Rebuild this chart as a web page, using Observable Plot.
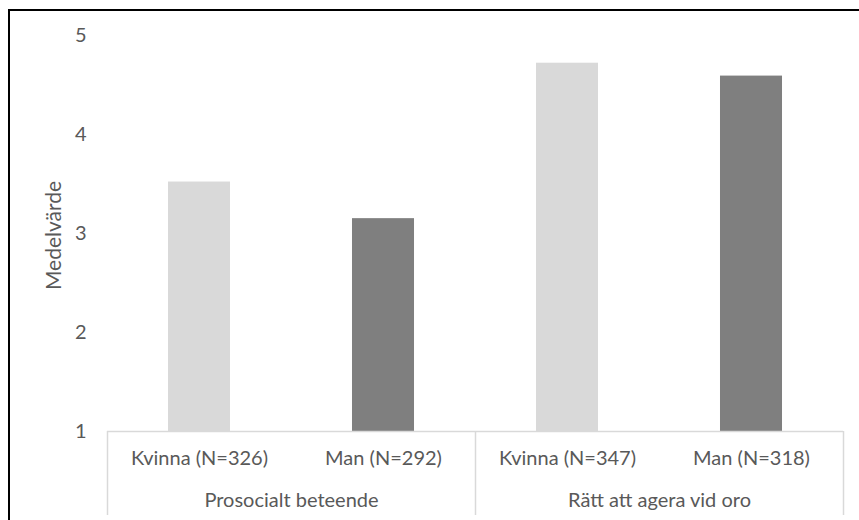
<!DOCTYPE html>
<html>
<head>
<meta charset="utf-8">
<script src="https://cdn.jsdelivr.net/npm/d3@7"></script>
<script src="https://cdn.jsdelivr.net/npm/@observablehq/plot@0.6"></script>
<style>
  html, body { margin: 0; padding: 0; background: #fff; }
  #wrap { position: relative; width: 859px; height: 520px; overflow: hidden; }
  #border { position: absolute; left: 8px; top: 9px; width: 900px; height: 600px;
            border-left: 2px solid #000; border-top: 2px solid #000; box-sizing: border-box; }
  #chart { position: absolute; left: 0; top: 0; }
</style>
</head>
<body>
<div id="wrap"><div id="chart"></div><div id="border"></div></div>
<script>
const groups = ["Prosocialt beteende", "Rätt att agera vid oro"];
const labels = ["Kvinna (N=326)", "Man (N=292)", "Kvinna (N=347)", "Man (N=318)"];
const sexes = ["Kvinna", "Man", "Kvinna", "Man"];
const values = [3.52, 3.15, 4.72, 4.59];
const yTicks = [1, 2, 3, 4, 5];
const yLabel = "Medelvärde";

const colors = {Kvinna: "#d9d9d9", Man: "#7f7f7f"};
const barFrac = 0.337; // bar width as fraction of slot

const bars = labels.map((l, i) => ({
  label: l, sex: sexes[i], value: values[i],
  x1: i + (1 - barFrac) / 2, x2: i + (1 + barFrac) / 2, xc: i + 0.5
}));
const groupData = groups.map((g, k) => ({group: g, xc: 2 * k + 1}));
const seps = [0, 2, 4];

const font = "Lato, 'Open Sans', sans-serif";
const txt = "#595959";
const fs = 20;

const chart = Plot.plot({
  width: 859,
  height: 520,
  marginLeft: 107,
  marginRight: 16,
  marginTop: 35,
  marginBottom: 89,
  style: {fontFamily: font, fontSize: fs + "px", color: txt, background: "transparent", overflow: "visible"},
  x: {type: "linear", domain: [0, 4], axis: null},
  y: {domain: [1, 5], axis: null},
  marks: [
    Plot.rectY(bars, {x1: "x1", x2: "x2", y1: 1, y2: "value", fill: d => colors[d.sex]}),
    Plot.ruleY([1], {stroke: "#d9d9d9", strokeWidth: 1.5}),
    Plot.ruleX(seps, {x: d => d, stroke: "#d9d9d9", strokeWidth: 1.5, insetTop: 396, insetBottom: -84}),
    Plot.axisY(yTicks, {tickSize: 0, tickPadding: 21, tickFormat: d3.format("d"), fontSize: fs, fill: txt, label: null}),
    Plot.text(bars, {x: "xc", text: "label", frameAnchor: "bottom", dy: 33, fill: txt, fontSize: fs}),
    Plot.text(groupData, {x: "xc", text: "group", frameAnchor: "bottom", dy: 75, fill: txt, fontSize: fs}),
    Plot.text([yLabel], {frameAnchor: "left", textAnchor: "middle", dx: -53, dy: 2, rotate: -90, fill: txt, fontSize: fs + 1})
  ]
});
document.getElementById("chart").appendChild(chart);
</script>
</body>
</html>
